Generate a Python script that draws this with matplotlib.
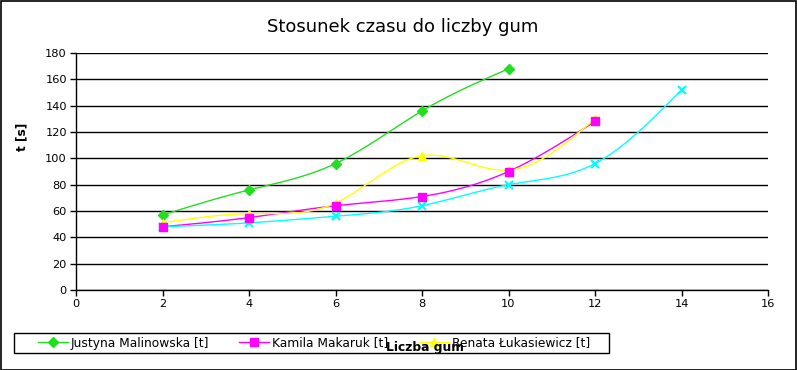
import numpy as np
import matplotlib
matplotlib.use("Agg")
import matplotlib.pyplot as plt
from matplotlib.lines import Line2D
from matplotlib.patches import Rectangle

title = "Stosunek czasu do liczby gum"
xlabel = "Liczba gum"
ylabel = "t [s]"

x_justyna = [2, 4, 6, 8, 10]
y_justyna = [57, 76, 96, 136, 168]
x_kamila = [2, 4, 6, 8, 10, 12]
y_kamila = [48, 55, 64, 71, 90, 128]
x_renata = [2, 4, 6, 8, 10, 12]
y_renata = [51, 58, 66, 102, 91, 130]
x_cyan = [2, 4, 6, 8, 10, 12, 14]
y_cyan = [48, 51, 56, 64, 80, 96, 152]

labels = ["Justyna Malinowska [t]", "Kamila Makaruk [t]", "Renata Łukasiewicz [t]"]
xticks = list(range(0, 17, 2))
yticks = list(range(0, 181, 20))


def natural_spline(x, y, n=200):
    x = np.asarray(x, float)
    y = np.asarray(y, float)
    k = len(x)
    h = np.diff(x)
    A = np.zeros((k, k))
    b = np.zeros(k)
    A[0, 0] = 1
    A[-1, -1] = 1
    for i in range(1, k - 1):
        A[i, i - 1] = h[i - 1]
        A[i, i] = 2 * (h[i - 1] + h[i])
        A[i, i + 1] = h[i]
        b[i] = 6 * ((y[i + 1] - y[i]) / h[i] - (y[i] - y[i - 1]) / h[i - 1])
    M = np.linalg.solve(A, b)
    xs = np.linspace(x[0], x[-1], n)
    idx = np.clip(np.searchsorted(x, xs) - 1, 0, k - 2)
    x0, x1 = x[idx], x[idx + 1]
    hh = x1 - x0
    a = (x1 - xs) / hh
    bb = (xs - x0) / hh
    ys = a * y[idx] + bb * y[idx + 1] + ((a ** 3 - a) * M[idx] + (bb ** 3 - bb) * M[idx + 1]) * hh ** 2 / 6
    return xs, ys


W, H = 797, 370
fig = plt.figure(figsize=(W / 100, H / 100), dpi=100)
fig.patch.set_facecolor("white")
fig.add_artist(Rectangle((0.5 / W, 0.5 / H), 1 - 1.5 / W, 1 - 1.5 / H, transform=fig.transFigure,
                         fill=False, edgecolor="black", linewidth=1.2))

L, R, T, B = 76, 768, 53, 290
ax = fig.add_axes([L / W, 1 - B / H, (R - L) / W, (B - T) / H])

series = [
    (x_justyna, y_justyna, "#22dd22", "D", 5.5, 1.0, 5),
    (x_kamila, y_kamila, "#ff00ff", "s", 5.5, 1.0, 7),
    (x_renata, y_renata, "#ffff00", "^", 6.0, 1.0, 5),
    (x_cyan, y_cyan, "#00ffff", "x", 6.0, 1.6, 4),
]
handles = []
for xs_, ys_, col, mk, ms, mew, z in series:
    sx, sy = natural_spline(xs_, ys_)
    ax.plot(sx, sy, color=col, lw=1.0, zorder=3)
    ax.plot(xs_, ys_, ls="none", marker=mk, color=col, ms=ms, mew=mew, zorder=z)
    handles.append(Line2D([], [], color=col, lw=1.0, marker=mk, ms=ms, mew=mew))

ax.set_xlim(0, 16)
ax.set_ylim(0, 180)
ax.set_xticks(xticks)
ax.set_yticks(yticks)
ax.yaxis.grid(True, color="black", lw=1.0)
ax.set_axisbelow(True)
for s in ["top", "right"]:
    ax.spines[s].set_visible(False)
for s in ["left", "bottom"]:
    ax.spines[s].set_linewidth(1.0)
ax.tick_params(axis="both", direction="out", length=4.5, width=1, labelsize=8.2, pad=2)

fig.text(403 / W, 1 - 27 / H, title, ha="center", va="center", fontsize=13)
fig.text(22 / W, 1 - 137 / H, ylabel, ha="center", va="center", rotation=90, fontsize=8.8, fontweight="bold")

# legend frame
fig.add_artist(Rectangle((14 / W, 1 - 353 / H), (609 - 14) / W, 20 / H, transform=fig.transFigure,
                         fill=False, edgecolor="black", linewidth=1.0))
leg = fig.legend(handles[:3], labels, loc="center left", bbox_to_anchor=(38 / W, 1 - 343 / H),
                 ncol=3, fontsize=8.8, frameon=False,
                 handlelength=2.45, handletextpad=0.25, columnspacing=2.45, borderpad=0.0,
                 borderaxespad=0)
fig.text(425 / W, 1 - 347 / H, xlabel, ha="center", va="center", fontsize=8.8, fontweight="bold", zorder=10)

fig.savefig("out.png", dpi=100)
